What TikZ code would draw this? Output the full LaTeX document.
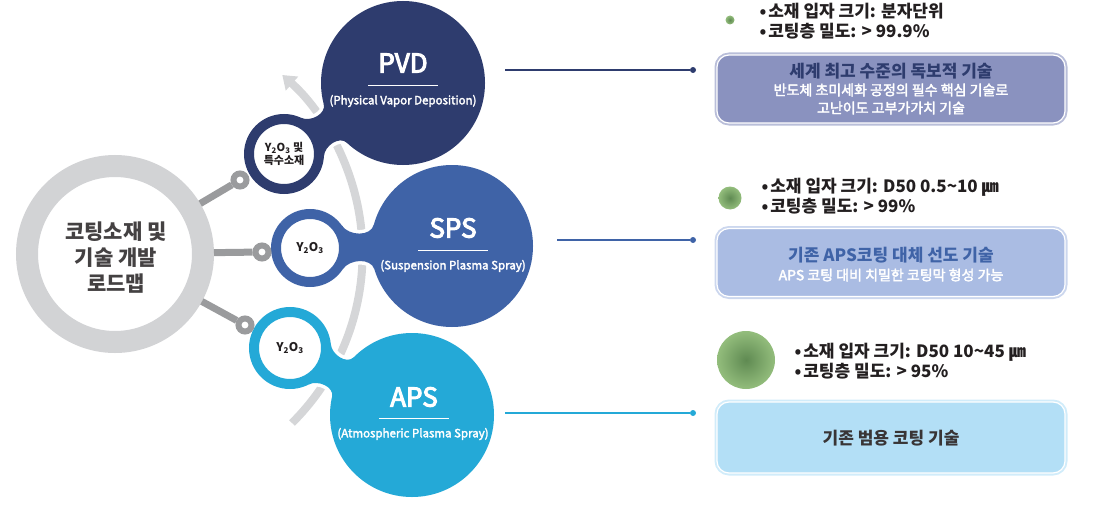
\documentclass[tikz,border=0pt]{standalone}
\usepackage{fontspec}
\setmainfont{Noto Sans CJK KR}
\newfontfamily\semifont[FakeBold=4]{Noto Sans CJK KR}
\newfontfamily\medfont[FakeBold=2.5]{Noto Sans CJK KR}
\usetikzlibrary{arrows.meta}
\definecolor{pvdblue}{HTML}{2E3C6E}
\definecolor{spsblue}{HTML}{3F63A7}
\definecolor{apsblue}{HTML}{24A9D7}
\definecolor{ringgray}{HTML}{D2D3D5}
\definecolor{conngray}{HTML}{9A9B9D}
\definecolor{arcgray}{HTML}{D5D6D8}
\definecolor{textdark}{HTML}{231F20}
\definecolor{boxpvd}{HTML}{8A92BF}
\definecolor{boxsps}{HTML}{AABCE3}
\definecolor{boxaps}{HTML}{B3DFF6}
\definecolor{greenout}{HTML}{93BD7C}
\definecolor{greenin}{HTML}{5F8A52}
% pinched bridge: #1 small centre, #2 big centre, #3 direction, #4 small radius, #5 big radius
\newcommand\bridgepath[5]{%
  ([shift={(#3+34:#4)}]#1) to[out=-#3+56,in=-#3-254] ([shift={(#3+164:#5)}]#2)
  -- ([shift={(#3+196:#5)}]#2) to[out=-#3-106,in=-#3-56] ([shift={(#3-34:#4)}]#1)}
\begin{document}
\begin{tikzpicture}[x=1pt,y=-1pt,
  bigdisc/.style={circle,fill=#1,inner sep=0,minimum size=164,
    preaction={draw=white,line width=6}},
  smallring/.style={circle,draw=#1,fill=white,line width=10,inner sep=0,minimum size=70},
  knob/.style={circle,draw=conngray,fill=white,line width=6,inner sep=0,minimum size=13},
  conn/.style={draw=conngray,line width=7},
  endpoint/.style={circle,fill=#1,inner sep=0,minimum size=6},
  leader/.style={draw=#1,line width=1.8},
  grain/.style={circle,inner sep=0,minimum size=#1,inner color=greenin,outer color=greenout},
  infobox/.style={rounded corners=12,minimum width=348,minimum height=68,inner sep=0,
    fill=#1,draw=white,line width=1.2,preaction={draw=#1!60!white,line width=5}},
  procname/.style={text=white,font=\fontsize{26}{30}\semifont},
  procsub/.style={text=white,font=\fontsize{11.5}{13}\medfont},
  matl/.style={text=textdark,align=center,font=\fontsize{#1}{13}\selectfont\bfseries},
  bullets/.style={anchor=west,align=left,text=textdark,font=\fontsize{17}{20}\selectfont\bfseries},
  boxtitle/.style={text=#1,font=\fontsize{17}{18}\selectfont\bfseries},
  boxline/.style={text=white,font=\fontsize{14}{15}\medfont}
]
\useasboundingbox (0,0) rectangle (1102,511);

% guide arc behind the circles
\coordinate (arcfoot) at (292,423);
\draw[arcgray,line width=8,-{Triangle[width=18pt,length=13pt]}]
  (arcfoot) arc[start angle=45.2,end angle=-48.4,radius=238.8];

% roadmap ring
\node[circle,draw=ringgray,line width=22,minimum size=176,inner sep=0] (roadmap) at (115,254) {};
\node[text=textdark!85,align=center,font=\fontsize{21}{26}\selectfont\bfseries] (roadmaptext)
  at (116,258) {코팅소재 및\\기술 개발\\로드맵};

% circle centres
\coordinate (pvdsc) at (284,154);
\coordinate (pvdc) at (403,83);
\coordinate (spssc) at (310,248);
\coordinate (spsc) at (452,246);
\coordinate (apssc) at (290,348);
\coordinate (apsc) at (412,415);

% white gap round the bridges
\draw[white,line width=7] \bridgepath{pvdsc}{pvdc}{-30.8}{40}{82};
\draw[white,line width=7] \bridgepath{spssc}{spsc}{-0.8}{39}{81};
\draw[white,line width=7] \bridgepath{apssc}{apsc}{28.8}{41}{82};

% process circles and bridges
\node[bigdisc=pvdblue] (pvd) at (pvdc) {};
\node[bigdisc=spsblue,minimum size=162] (sps) at (spsc) {};
\node[bigdisc=apsblue] (aps) at (apsc) {};
\fill[pvdblue] \bridgepath{pvdsc}{pvdc}{-30.8}{40}{82} -- cycle;
\fill[spsblue] \bridgepath{spssc}{spsc}{-0.8}{39}{81} -- cycle;
\fill[apsblue] \bridgepath{apssc}{apsc}{28.8}{41}{82} -- cycle;
\node[smallring=pvdblue] (pvdmat) at (pvdsc) {};
\node[smallring=spsblue,minimum size=68] (spsmat) at (spssc) {};
\node[smallring=apsblue,minimum size=72] (apsmat) at (apssc) {};

% material labels
\node[matl=11] (pvdmattext) at (pvdmat) {Y\textsubscript{2}O\textsubscript{3} 및\\특수소재};
\node[matl=12] (spsmattext) at (spsmat) {Y\textsubscript{2}O\textsubscript{3}};
\node[matl=12] (apsmattext) at (apsmat) {Y\textsubscript{2}O\textsubscript{3}};

% process labels
\node[procname] (pvdname) at (403,63) {PVD};
\draw[white,line width=0.8] (368,85) -- (438,85);
\node[procsub] (pvdsub) at (403,101) {(Physical Vapor Deposition)};
\node[procname] (spsname) at (453,228) {SPS};
\draw[white,line width=0.8] (418,250) -- (488,250);
\node[procsub] (spssub) at (453,266) {(Suspension Plasma Spray)};
\node[procname] (apsname) at (414,397) {APS};
\draw[white,line width=0.8] (379,418) -- (449,418);
\node[procsub] (apssub) at (413,434) {(Atmospheric Plasma Spray)};

% ring to material connectors
\node[knob] (pvdknob) at (240,180) {};
\node[knob] (spsknob) at (262,252) {};
\node[knob] (apsknob) at (245,325) {};
\draw[conn] (roadmap) -- (pvdknob);
\draw[conn] (roadmap) -- (spsknob);
\draw[conn] (roadmap) -- (apsknob);

% leaders to the right
\coordinate (pvdfrom) at (505,70);
\coordinate (spsfrom) at (557,240);
\coordinate (apsfrom) at (505,413);
\node[endpoint=pvdblue] (pvdend) at (693,70) {};
\node[endpoint=spsblue] (spsend) at (693,240) {};
\node[endpoint=apsblue] (apsend) at (693,413) {};
\draw[leader=pvdblue] (pvdfrom) -- (pvdend);
\draw[leader=spsblue] (spsfrom) -- (spsend);
\draw[leader=apsblue] (apsfrom) -- (apsend);

% PVD details
\node[grain=9] (pvdgrain) at (730,20) {};
\node[bullets] (pvdinfo) at (756,21) {•\hspace{2pt}소재 입자 크기: 분자단위\\•\hspace{2pt}코팅층 밀도: > 99.9\%};
\node[infobox=boxpvd] (pvdbox) at (891,89) {};
\node[boxtitle=pvdblue] (pvdboxtitle) at (891,71) {세계 최고 수준의 독보적 기술};
\node[boxline] (pvdboxa) at (891,90) {반도체 초미세화 공정의 필수 핵심 기술로};
\node[boxline] (pvdboxb) at (891,108) {고난이도 고부가가치 기술};

% SPS details
\node[grain=23] (spsgrain) at (730,198) {};
\node[bullets] (spsinfo) at (758,196) {•\hspace{2pt}소재 입자 크기: D50 0.5\textasciitilde10 ㎛\\•\hspace{2pt}코팅층 밀도: > 99\%};
\node[infobox=boxsps] (spsbox) at (891,262.5) {};
\node[boxtitle=spsblue] (spsboxtitle) at (891,255) {기존 APS코팅 대체 선도 기술};
\node[boxline] (spsboxa) at (891,275) {APS 코팅 대비 치밀한 코팅막 형성 가능};

% APS details
\node[grain=58] (apsgrain) at (746,360) {};
\node[bullets] (apsinfo) at (791,361) {•\hspace{2pt}소재 입자 크기: D50 10\textasciitilde45 ㎛\\•\hspace{2pt}코팅층 밀도: > 95\%};
\node[infobox=boxaps,minimum height=71] (apsbox) at (891,437.5) {};
\node[boxtitle=textdark!90] (apsboxtitle) at (891,438) {기존 범용 코팅 기술};
\end{tikzpicture}
\end{document}
